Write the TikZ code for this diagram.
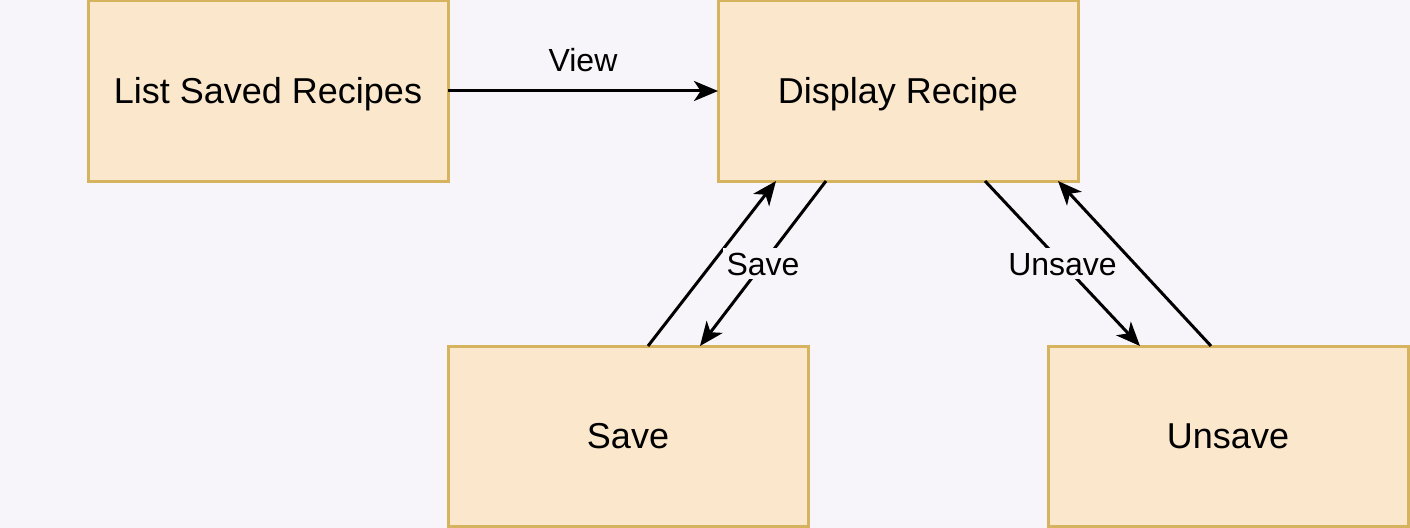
\documentclass[tikz,border=0pt]{standalone}
\usepackage{fontspec}
\setmainfont{Liberation Sans}
\usetikzlibrary{arrows.meta,calc}
\definecolor{bgc}{HTML}{F8F5FA}
\definecolor{boxfill}{HTML}{FAE7CC}
\definecolor{boxdraw}{HTML}{D6B35F}
\begin{document}
\begin{tikzpicture}[x=0.75pt,y=-0.75pt,
  box/.style={draw=boxdraw,fill=boxfill,line width=2.25pt,minimum width=270pt,minimum height=135pt,inner sep=0pt,outer sep=0pt,text height=19.4pt,text depth=0pt,font=\fontsize{27}{32}\selectfont},
  conn/.style={line width=2.25pt,-{Stealth[length=18pt,width=15pt,inset=5pt]}},
  lbl/.style={font=\fontsize{24}{28}\selectfont,inner sep=3pt,text height=17.3pt,text depth=0pt}]
\fill[bgc] (0,0) rectangle (1410,528);
\useasboundingbox (0,0) rectangle (1410,528);
\node[box] (list) at (268,91) {List Saved Recipes};
\node[box] (disp) at (898,91) {Display Recipe};
\node[box] (save) at (628,436) {Save};
\node[box] (unsave) at (1228,436) {Unsave};
\draw[conn] (list.east) -- node[lbl,midway,yshift=23.25pt]{View} (disp.west);
\draw[conn] ($(save.north west)+(200,0)$) -- ($(disp.south west)+(58,0)$);
\draw[conn] ($(disp.south west)+(108,0)$) -- node[lbl,midway,fill=bgc]{Save} ($(save.north west)+(252,0)$);
\draw[conn] ($(disp.south west)+(267,0)$) -- node[lbl,midway,fill=bgc]{Unsave} ($(unsave.north west)+(92,0)$);
\draw[conn] ($(unsave.north west)+(163,0)$) -- ($(disp.south west)+(340,0)$);
\end{tikzpicture}
\end{document}
